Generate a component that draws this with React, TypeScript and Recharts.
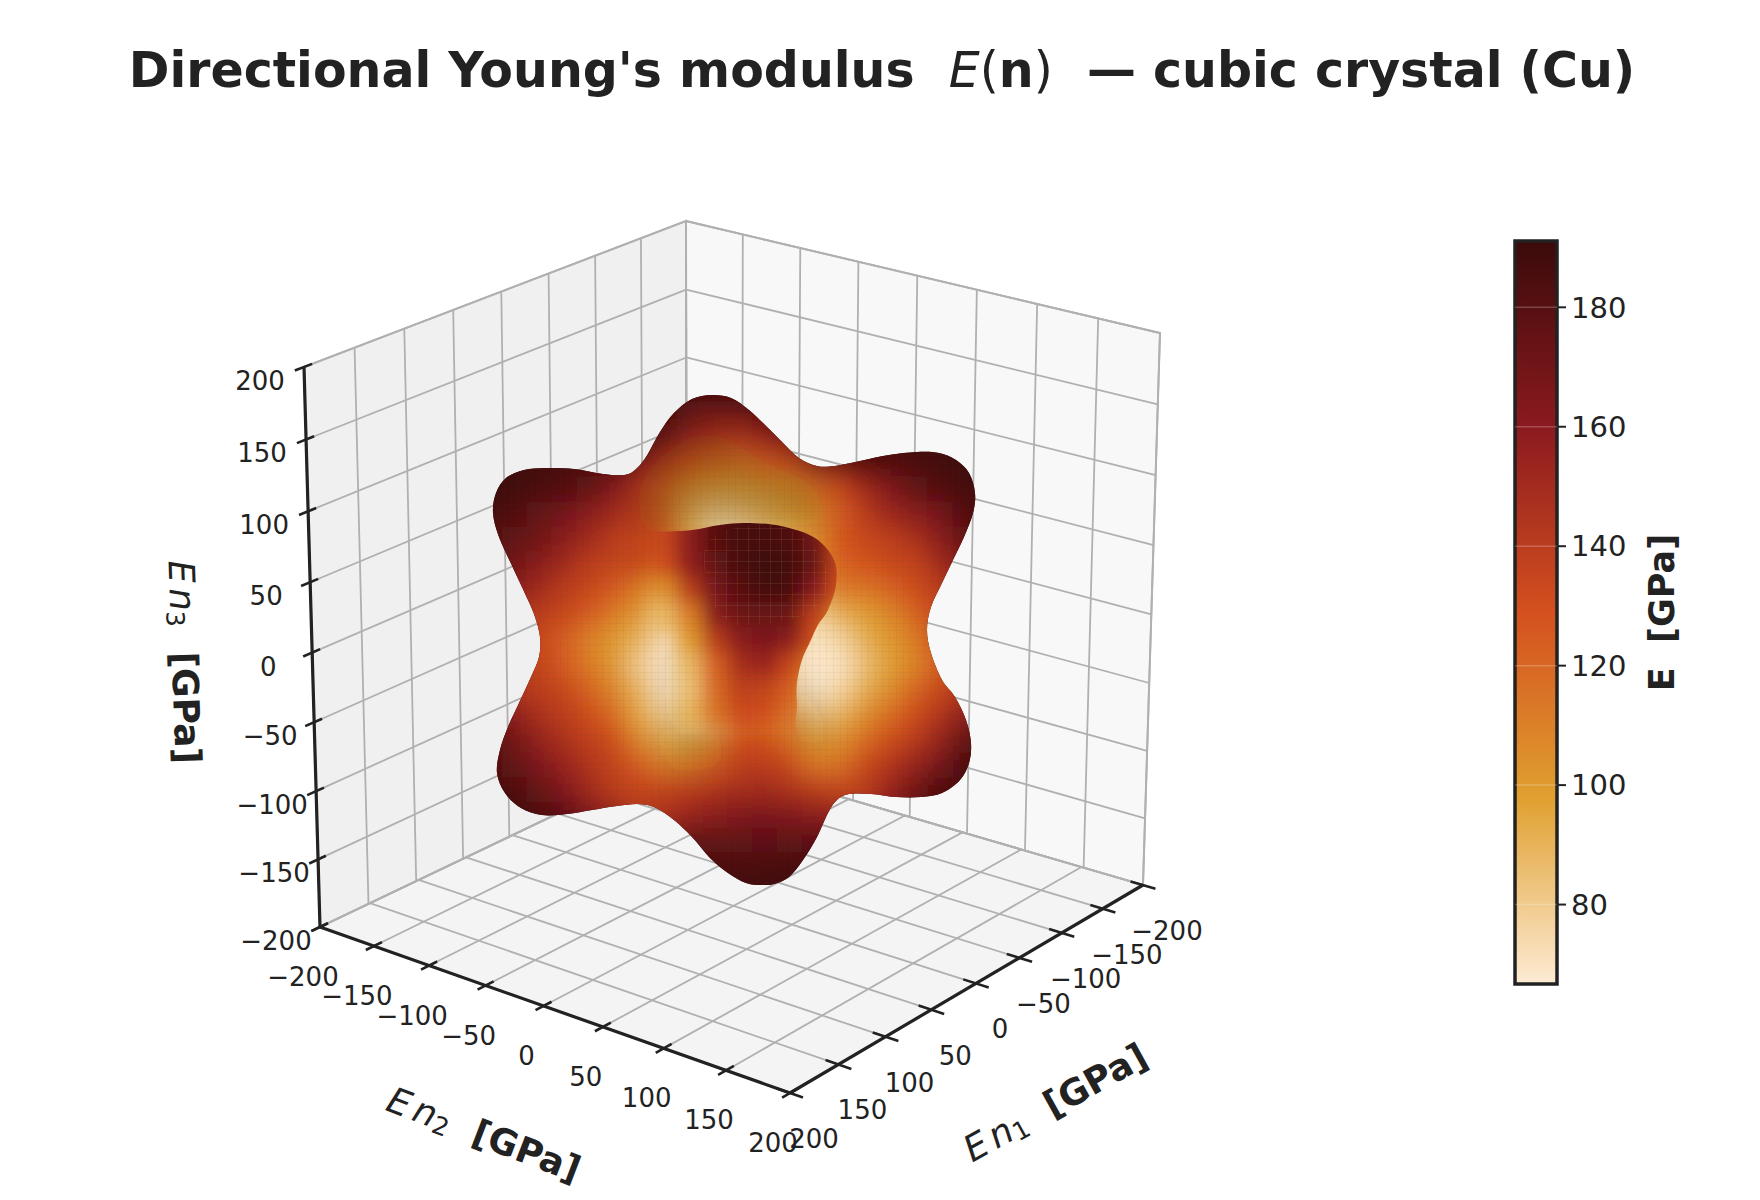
import { Bar, BarChart, ReferenceLine, Scatter, ScatterChart, XAxis, YAxis } from "recharts";

const ticks = [-200, -150, -100, -50, 0, 50, 100, 150, 200];
const colorbarTicks = [80, 100, 120, 140, 160, 180];
const colorbarRange = [66.7, 191.1];
const colormap = ["#fdebd3", "#e0a030", "#d4501e", "#8b1a1f", "#3b0a0a"];

// screen corners of the 3D box
const cornerBack = [687, 752];
const cornerLeft = [320, 927];
const cornerFront = [790, 1093];
const cornerRight = [1143, 885];
const topBack = [686, 221];
const topLeft = [304, 367];
const topRight = [1160, 333];

// outline of the surface
const silhouette = [
  [712, 395], [731, 398], [749, 410], [767, 427], [783, 443], [799, 458], [817, 466], [835, 466],
  [860, 461], [889, 455], [917, 452], [939, 453], [956, 460], [969, 473], [975, 493], [973, 513],
  [964, 537], [953, 560], [942, 583], [931, 607], [927, 630], [931, 653], [942, 680], [955, 697],
  [966, 720], [971, 743], [969, 763], [960, 780], [942, 793], [921, 797], [896, 797], [871, 794],
  [849, 794], [837, 800], [828, 813], [817, 837], [803, 860], [789, 877], [774, 884], [762, 885],
  [746, 883], [728, 873], [710, 858], [692, 837], [674, 820], [656, 808], [639, 804], [617, 806],
  [592, 810], [567, 814], [542, 815], [521, 808], [505, 793], [497, 773], [500, 750], [508, 727],
  [519, 703], [531, 677], [539, 657], [540, 637], [535, 617], [528, 600], [514, 570], [499, 537],
  [493, 513], [496, 493], [506, 478], [524, 470], [546, 468], [574, 469], [603, 474], [624, 475],
  [635, 470], [646, 457], [660, 432], [674, 413], [692, 399],
];

// E at screen sample points, one row per screen height
const backColumns = [490, 515, 540, 565, 590, 615, 640, 665, 690, 715, 740, 765, 790, 815, 840, 865, 890, 915, 940, 965, 990];
const backRowY = [390, 415, 440, 465, 490, 515, 540, 565, 590, 615, 640, 665, 690, 715, 740, 765, 790, 815, 840, 865, 890];
const backE = [
  [190, 190, 190, 190, 190, 190, 190, 190, 190, 190, 190, 190, 190, 190, 190, 190, 190, 190, 190, 190, 190],
  [190, 190, 190, 190, 190, 190, 190, 188, 175, 170, 172, 182, 188, 190, 190, 190, 190, 190, 190, 190, 190],
  [190, 190, 190, 190, 190, 190, 187, 176, 156, 146, 144, 154, 172, 184, 188, 188, 188, 188, 188, 188, 188],
  [190, 190, 188, 186, 184, 180, 165, 146, 128, 118, 116, 125, 136, 165, 172, 180, 182, 185, 188, 190, 190],
  [190, 188, 185, 182, 175, 163, 144, 123, 105, 98, 97, 100, 105, 118, 134, 150, 163, 175, 182, 187, 190],
  [187, 182, 175, 168, 160, 150, 140, 121, 92, 80, 84, 90, 96, 105, 125, 140, 153, 160, 168, 182, 188],
  [182, 176, 170, 160, 150, 140, 134, 131, 100, 76, 74, 85, 90, 105, 128, 134, 138, 146, 160, 176, 182],
  [175, 170, 160, 150, 140, 136, 136, 125, 100, 90, 90, 90, 92, 108, 122, 127, 134, 136, 150, 165, 172],
  [165, 160, 150, 140, 134, 125, 112, 100, 92, 90, 90, 90, 88, 96, 114, 114, 121, 131, 140, 155, 162],
  [155, 145, 140, 134, 125, 112, 100, 85, 80, 85, 85, 85, 85, 78, 92, 98, 108, 121, 134, 145, 155],
  [145, 140, 134, 123, 110, 100, 90, 72, 72, 80, 85, 80, 78, 70, 76, 92, 100, 112, 131, 140, 150],
  [145, 140, 136, 125, 112, 100, 80, 68, 68, 72, 85, 82, 75, 67, 70, 85, 98, 108, 125, 138, 145],
  [155, 145, 140, 134, 121, 108, 90, 70, 68, 72, 95, 90, 80, 68, 76, 92, 105, 121, 134, 144, 150],
  [170, 158, 146, 139, 131, 118, 95, 80, 75, 85, 115, 112, 105, 82, 90, 105, 118, 131, 144, 160, 170],
  [180, 170, 156, 146, 138, 131, 108, 92, 95, 110, 131, 131, 118, 100, 104, 118, 131, 141, 156, 176, 184],
  [182, 176, 165, 154, 144, 136, 125, 112, 115, 125, 139, 139, 134, 115, 116, 134, 144, 156, 168, 185, 188],
  [187, 184, 174, 164, 151, 139, 136, 138, 141, 146, 149, 151, 146, 141, 136, 139, 154, 170, 184, 188, 190],
  [190, 188, 185, 178, 165, 156, 141, 146, 154, 160, 164, 166, 164, 160, 156, 156, 165, 180, 187, 190, 190],
  [190, 190, 190, 190, 190, 190, 175, 170, 176, 176, 176, 178, 176, 178, 180, 190, 190, 190, 190, 190, 190],
  [190, 190, 190, 190, 190, 190, 190, 190, 188, 185, 183, 185, 186, 188, 190, 190, 190, 190, 190, 190, 190],
  [190, 190, 190, 190, 190, 190, 190, 190, 190, 190, 190, 190, 190, 190, 190, 190, 190, 190, 190, 190, 190],
];

// the lobe that points at the viewer lies in front of the rest
const frontColumns = [665, 690, 715, 740, 765, 790, 815, 840, 865];
const frontRowY = [490, 515, 540, 565, 590, 615, 640, 665, 690, 715];
const frontE = [
  [135, 160, 180, 187, 187, 184, 170, 138, 134],
  [135, 160, 180, 187, 187, 184, 170, 138, 134],
  [135, 160, 180, 187, 187, 184, 170, 138, 134],
  [132, 158, 176, 186, 190, 188, 174, 136, 128],
  [105, 140, 168, 180, 188, 186, 162, 130, 118],
  [88, 112, 160, 172, 174, 172, 138, 112, 100],
  [null, 100, 140, 160, 166, 160, 130, 95, null],
  [null, 88, 122, 148, 154, 135, 112, null, null],
  [null, 85, 118, 138, 136, 124, 100, null, null],
  [null, 90, 115, 132, 130, 116, null, null, null],
];
const frontEdge = [[500, 560], [600, 536], [660, 532], [692, 530], [720, 525], [746, 523], [781, 526], [815, 538], [834, 560], [836, 585], [828, 610], [818, 625], [810, 642], [802, 660], [797, 683], [797, 707], [798, 735], [830, 790], [840, 900], [500, 900]];
const frontFacets = [[706, 545], [745, 526], [790, 530], [826, 565], [815, 610], [740, 625], [712, 600]];

// places where the surface looks duller than the colour scale
const dullTop = [[640, 490], [670, 450], [712, 435], [770, 465], [810, 485], [825, 515], [800, 525], [700, 526], [650, 530]];
const dullLeftPit = [[672, 650], [700, 670], [708, 725], [680, 735], [665, 700]];
const dullRightPit = [[803, 668], [815, 700], [828, 740], [800, 740], [795, 695]];
const dullLowerLeft = [[655, 735], [710, 728], [722, 760], [680, 772]];
const dullRegions: [number, number[][]][] = [
  [0.24, dullTop], [0.12, dullLeftPit], [0.14, dullRightPit], [0.12, dullLowerLeft],
];

const INK = "#222222";
const GRID = "#b0b0b0";
const FONT = "'DejaVu Sans', sans-serif";
const CELL = 26;

const noPoint = () => null;
const toPoints = (list: number[][]) => list.map(([x, y]) => ({ x, y }));

function colorFor(value: number) {
  const t = (value - colorbarRange[0]) / (colorbarRange[1] - colorbarRange[0]);
  const pos = Math.min(0.9999, Math.max(0, t)) * (colormap.length - 1);
  const i = Math.floor(pos);
  const hex = (c: string, k: number) => parseInt(c.slice(1 + k * 2, 3 + k * 2), 16);
  const rgb = [0, 1, 2].map((k) =>
    Math.round(hex(colormap[i], k) + (hex(colormap[i + 1], k) - hex(colormap[i], k)) * (pos - i)),
  );
  return `rgb(${rgb.join(",")})`;
}

function smoothPath(points: { x: number; y: number }[]) {
  const n = points.length;
  let d = `M${points[0].x},${points[0].y}`;
  for (let i = 0; i < n; i++) {
    const p0 = points[(i - 1 + n) % n];
    const p1 = points[i];
    const p2 = points[(i + 1) % n];
    const p3 = points[(i + 2) % n];
    d += `C${p1.x + (p2.x - p0.x) / 6},${p1.y + (p2.y - p0.y) / 6} ${p2.x - (p3.x - p1.x) / 6},${p2.y - (p3.y - p1.y) / 6} ${p2.x},${p2.y}`;
  }
  return d + "Z";
}

function samples(columns: number[], rows: number[], values: (number | null)[][]) {
  return rows.flatMap((y, j) =>
    columns.flatMap((x, i) => (values[j][i] === null ? [] : [{ x, y, value: values[j][i] as number }])),
  );
}

// perspective map from the unit square onto four screen corners
function planeMap(c00: number[], c10: number[], c11: number[], c01: number[]) {
  const dx1 = c10[0] - c11[0];
  const dx2 = c01[0] - c11[0];
  const sx = c00[0] - c10[0] + c11[0] - c01[0];
  const dy1 = c10[1] - c11[1];
  const dy2 = c01[1] - c11[1];
  const sy = c00[1] - c10[1] + c11[1] - c01[1];
  const det = dx1 * dy2 - dx2 * dy1;
  const g = (sx * dy2 - dx2 * sy) / det;
  const h = (dx1 * sy - sx * dy1) / det;
  const a = c10[0] - c00[0] + g * c10[0];
  const b = c01[0] - c00[0] + h * c01[0];
  const d = c10[1] - c00[1] + g * c10[1];
  const e = c01[1] - c00[1] + h * c01[1];
  return (p: number, q: number) => {
    const u = (p + 200) / 400;
    const v = (q + 200) / 400;
    const w = g * u + h * v + 1;
    return { x: (a * u + b * v + c00[0]) / w, y: (d * u + e * v + c00[1]) / w };
  };
}

const floor = planeMap(cornerBack, cornerLeft, cornerFront, cornerRight);
const leftWall = planeMap(cornerBack, cornerLeft, topLeft, topBack);
const rightWall = planeMap(cornerBack, cornerRight, topRight, topBack);

const gridLines = ticks.flatMap((t) => [
  [floor(t, -200), floor(t, 200)],
  [floor(-200, t), floor(200, t)],
  [leftWall(t, -200), leftWall(t, 200)],
  [leftWall(-200, t), leftWall(200, t)],
  [rightWall(t, -200), rightWall(t, 200)],
  [rightWall(-200, t), rightWall(200, t)],
]);

const tickMarks = ticks.flatMap((t) => [
  [leftWall(209, t), leftWall(192, t)],
  [floor(208, t), floor(192, t)],
  [floor(t, 210), floor(t, 190)],
]);

const tickText = (t: number) => String(t).replace("-", "\u2212");
const zLabels = ticks.map((t) => ({ ...leftWall(200, t), dx: -44, dy: 14, text: tickText(t) }));
const n2Labels = ticks.map((t) => ({ ...floor(200, t), dx: -17, dy: 50, text: tickText(t) }));
const n1Labels = ticks.map((t) => ({ ...floor(t, 200), dx: 24, dy: 46, text: tickText(t) }));

function TickLabel(props: any) {
  const { cx, cy, payload } = props;
  return (
    <text x={cx + payload.dx} y={cy + payload.dy} textAnchor="middle" dominantBaseline="central"
      fontFamily={FONT} fontSize={26} fill={INK}>
      {payload.text}
    </text>
  );
}

function AxisTitle({ x, y, angle, sub }: { x: number; y: number; angle: number; sub: string }) {
  return (
    <text x={x} y={y} transform={`rotate(${angle} ${x} ${y})`} textAnchor="middle" dominantBaseline="central"
      fontFamily={FONT} fontSize={36} fill={INK} style={{ whiteSpace: "pre" }}>
      <tspan fontStyle="italic">E</tspan>
      <tspan fontStyle="italic" dx={5}>n</tspan>
      <tspan fontSize={25} dy={8}>{sub}</tspan>
      <tspan fontWeight={700} dy={-8}>{"  [GPa]"}</tspan>
    </text>
  );
}

function cellLayer(cells: { x: number; y: number; value: number }[], clip: string, blur: string) {
  return (p: any) => (
    <g clipPath={`url(#${clip})`}>
      <g filter={`url(#${blur})`}>
        {p.points.map((q: any, i: number) => (
          <rect key={i} x={q.x - CELL / 2} y={q.y - CELL / 2} width={CELL} height={CELL} fill={colorFor(cells[i].value)} />
        ))}
      </g>
    </g>
  );
}

const backCells = samples(backColumns, backRowY, backE);
const frontCells = samples(frontColumns, frontRowY, frontE);

function Plot3D() {
  return (
    <ScatterChart width={1760} height={1200} margin={{ top: 0, right: 0, bottom: 0, left: 0 }}>
      <defs>
        <filter id="softBack" filterUnits="userSpaceOnUse" x="0" y="0" width="1760" height="1200">
          <feGaussianBlur stdDeviation="12" />
        </filter>
        <filter id="softFront" filterUnits="userSpaceOnUse" x="0" y="0" width="1760" height="1200">
          <feGaussianBlur stdDeviation="9" />
        </filter>
        <filter id="softer" filterUnits="userSpaceOnUse" x="0" y="0" width="1760" height="1200">
          <feGaussianBlur stdDeviation="14" />
        </filter>
        <pattern id="mesh" width="7" height="7" patternUnits="userSpaceOnUse">
          <path d="M7,0H0V7" fill="none" stroke="#4a3a2a" strokeOpacity="0.14" strokeWidth="0.7" />
        </pattern>
        <pattern id="meshLight" width="11" height="11" patternUnits="userSpaceOnUse">
          <path d="M11,0H0V11" fill="none" stroke="#d8a878" strokeOpacity="0.28" strokeWidth="0.8" />
        </pattern>
      </defs>
      <XAxis type="number" dataKey="x" domain={[0, 1760]} hide />
      <YAxis type="number" dataKey="y" domain={[0, 1200]} reversed hide />

      <text x={882} y={70} textAnchor="middle" dominantBaseline="central" fontFamily={FONT} fontSize={49}
        fontWeight={700} fill={INK} style={{ whiteSpace: "pre" }}>
        {"Directional Young's modulus  "}
        <tspan fontStyle="italic" fontWeight={400}>E</tspan>
        <tspan fontWeight={400}>(</tspan>n<tspan fontWeight={400}>)</tspan>
        {"  \u2014 cubic crystal (Cu)"}
      </text>

      <Scatter data={toPoints([cornerBack, cornerLeft, topLeft, topBack])} isAnimationActive={false} shape={noPoint}
        lineJointType="linearClosed" line={{ fill: "#f0f0f0", stroke: GRID, strokeWidth: 2 }} />
      <Scatter data={toPoints([cornerBack, cornerRight, topRight, topBack])} isAnimationActive={false} shape={noPoint}
        lineJointType="linearClosed" line={{ fill: "#f8f8f8", stroke: GRID, strokeWidth: 2 }} />
      <Scatter data={toPoints([cornerBack, cornerLeft, cornerFront, cornerRight])} isAnimationActive={false} shape={noPoint}
        lineJointType="linearClosed" line={{ fill: "#f4f4f4", stroke: GRID, strokeWidth: 2 }} />
      {gridLines.map((seg, i) => (
        <Scatter key={`grid-${i}`} data={seg} isAnimationActive={false} shape={noPoint}
          line={{ stroke: GRID, strokeWidth: 1.8 }} />
      ))}

      <Scatter data={toPoints([cornerLeft, topLeft])} isAnimationActive={false} shape={noPoint}
        line={{ stroke: INK, strokeWidth: 3.2 }} />
      <Scatter data={toPoints([cornerLeft, cornerFront])} isAnimationActive={false} shape={noPoint}
        line={{ stroke: INK, strokeWidth: 3.2 }} />
      <Scatter data={toPoints([cornerFront, cornerRight])} isAnimationActive={false} shape={noPoint}
        line={{ stroke: INK, strokeWidth: 3.2 }} />
      {tickMarks.map((seg, i) => (
        <Scatter key={`tick-${i}`} data={seg} isAnimationActive={false} shape={noPoint}
          line={{ stroke: INK, strokeWidth: 2.6 }} />
      ))}
      <Scatter data={zLabels} isAnimationActive={false} shape={TickLabel} />
      <Scatter data={n2Labels} isAnimationActive={false} shape={TickLabel} />
      <Scatter data={n1Labels} isAnimationActive={false} shape={TickLabel} />

      <AxisTitle x={484} y={1134} angle={21} sub="2" />
      <AxisTitle x={1055} y={1102} angle={-29} sub="1" />
      <AxisTitle x={185} y={662} angle={88} sub="3" />

      <Scatter data={toPoints(silhouette)} isAnimationActive={false} shape={noPoint}
        line={(p: any) => (
          <g>
            <clipPath id="surfaceClip"><path d={smoothPath(p.points)} /></clipPath>
            <path d={smoothPath(p.points)} fill={colorFor(190)} />
          </g>
        )} />
      <Scatter data={toPoints(frontEdge)} isAnimationActive={false} shape={noPoint}
        line={(p: any) => (
          <clipPath id="frontClip" clipPath="url(#surfaceClip)">
            <path d={smoothPath(p.points)} />
          </clipPath>
        )} />
      <Scatter data={backCells} isAnimationActive={false} shape={noPoint}
        line={cellLayer(backCells, "surfaceClip", "softBack")} />
      {dullRegions.map(([opacity, outline], i) => (
        <Scatter key={`dull-${i}`} data={toPoints(outline)} isAnimationActive={false} shape={noPoint}
          line={(p: any) => (
            <g clipPath="url(#surfaceClip)">
              <path d={smoothPath(p.points)} fill="#2c2a10" fillOpacity={opacity} filter="url(#softer)" />
            </g>
          )} />
      ))}
      <Scatter data={frontCells} isAnimationActive={false} shape={noPoint}
        line={cellLayer(frontCells, "frontClip", "softFront")} />
      <Scatter data={toPoints(silhouette)} isAnimationActive={false} shape={noPoint}
        line={(p: any) => <path d={smoothPath(p.points)} fill="url(#mesh)" />} />
      <Scatter data={toPoints(frontFacets)} isAnimationActive={false} shape={noPoint}
        line={(p: any) => <path d={smoothPath(p.points)} fill="url(#meshLight)" />} />
    </ScatterChart>
  );
}

function Colorbar() {
  return (
    <BarChart width={260} height={830} data={[{ label: "E", value: colorbarRange[1] }]} barCategoryGap={0}
      margin={{ top: 41, right: 0, bottom: 46, left: 15 }}>
      <defs>
        <linearGradient id="cbar" x1="0" y1="1" x2="0" y2="0">
          {colormap.map((c, i) => (
            <stop key={c} offset={i / (colormap.length - 1)} stopColor={c} />
          ))}
        </linearGradient>
      </defs>
      <XAxis dataKey="label" hide />
      <YAxis orientation="right" width={203} domain={colorbarRange} ticks={colorbarTicks} axisLine={false}
        tickSize={9} tickMargin={5} tickLine={{ stroke: INK, strokeWidth: 2 }}
        tick={{ fontFamily: FONT, fontSize: 29, fill: INK }}
        label={{ value: "E\u00a0\u00a0[GPa]", angle: -90, position: "center", dx: 3,
          style: { fontFamily: FONT, fontSize: 35, fontWeight: 700, fill: INK } }} />
      <Bar dataKey="value" fill="url(#cbar)" stroke={INK} strokeWidth={3.5} isAnimationActive={false} />
      {colorbarTicks.map((t) => (
        <ReferenceLine key={t} y={t} stroke="rgba(255,255,255,0.22)" strokeWidth={1.5} />
      ))}
    </BarChart>
  );
}

export default function App() {
  return (
    <div style={{ position: "absolute", left: 0, top: 0, width: 1760, height: 1200, background: "#fff" }}>
      <Plot3D />
      <div style={{ position: "absolute", left: 1500, top: 200 }}>
        <Colorbar />
      </div>
    </div>
  );
}
